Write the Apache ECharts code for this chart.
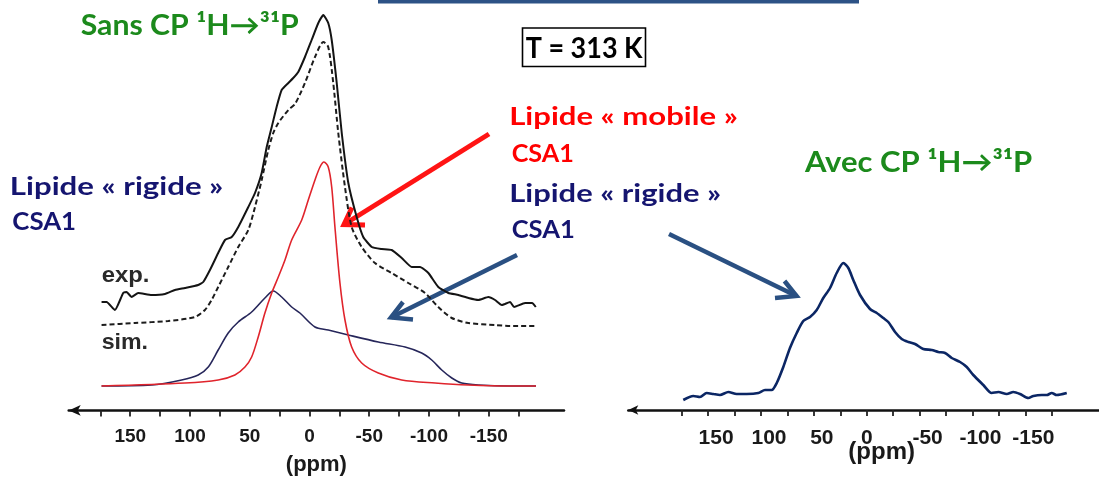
<!DOCTYPE html>
<html><head><meta charset="utf-8">
<script src="https://cdn.jsdelivr.net/npm/echarts@6/dist/echarts.min.js"></script>
<style>html,body{margin:0;padding:0;background:#fff;}#c{width:1099px;height:477px;}</style>
</head><body><div id="c"></div>
<script>
// ---------- data (ppm, intensity in arbitrary units) ----------
const ppmTicks = [175,150,125,100,75,50,25,0,-25,-50,-75,-100,-125,-150,-175];
const ppmLabels = [150,100,50,0,-50,-100,-150];

// left panel: experimental spectrum without CP (offset trace)
const expPpm = [174.0,169.8,162.8,155.9,153.0,148.9,143.3,132.1,121.0,112.6,104.2,93.1,88.9,83.3,76.4,70.7,65.1,59.6,51.2,45.6,40.0,35.8,31.6,27.5,23.3,17.7,13.6,9.4,3.8,-1.8,-7.4,-11.6,-15.7,-18.6,-22.8,-27.0,-32.5,-39.5,-45.0,-52.1,-60.4,-68.8,-77.2,-85.6,-92.5,-99.5,-107.8,-116.2,-124.6,-133.0,-141.3,-149.7,-155.3,-160.9,-167.9,-171.2,-180.4,-186.3,-189.4];
const expInt = [84,84,76,93,94,89,93,91,92,96,98,101,104,116,133,146,149,159,179,193,213,239,259,279,296,303,308,314,329,346,363,371,363,346,303,253,203,169,149,139,137,136,128,119,119,113,99,93,91,88,86,89,86,81,84,79,83,83,79];

// left panel: total simulated spectrum (dashed, offset trace)
const simPpm = [174.0,146.1,118.2,95.9,87.5,81.9,76.4,68.0,59.6,51.2,45.6,40.0,34.5,30.3,26.1,17.7,12.1,3.8,-4.6,-11.6,-15.7,-19.9,-24.1,-29.7,-35.3,-43.7,-54.8,-68.8,-82.7,-96.7,-107.8,-119.1,-133.0,-155.3,-167.9,-189.6];
const simInt = [61,63,65,69,76,86,99,119,139,156,179,206,236,253,263,276,282,303,329,344,339,303,253,199,159,139,123,113,103,93,79,68,63,61,60,60];

// left panel: "rigide" lipid component
const rigPpm = [174.0,132.1,107.0,93.1,84.7,76.4,68.0,59.6,48.4,37.3,30.3,23.3,14.9,8.0,-4.6,-15.7,-32.5,-57.6,-80.0,-93.9,-102.3,-110.7,-119.1,-127.4,-141.3,-167.9,-189.6];
const rigInt = [0,1,6,11,19,36,53,64,74,88,95,89,79,73,59,56,51,44,39,33,26,16,8,3,1,0,0];

// left panel: "mobile" lipid component
const mobPpm = [174.0,104.2,76.4,62.4,54.0,48.4,42.9,37.3,31.6,26.1,20.5,14.9,6.5,1.0,-4.6,-8.8,-12.1,-15.7,-18.6,-21.3,-25.5,-29.7,-35.3,-43.7,-57.6,-77.2,-105.1,-133.0,-167.9,-189.6];
const mobInt = [0,3,6,11,19,29,49,73,93,109,126,146,166,186,206,219,224,219,199,159,103,66,39,23,13,6,3,1,0,0];

// right panel: spectrum with CP 1H->31P
const cpPpm = [173.5,164.0,157.7,151.4,145.1,138.8,130.9,123.0,113.5,102.5,96.2,89.9,85.1,78.9,72.6,66.2,60.0,53.6,47.3,41.1,34.7,28.4,22.1,17.4,12.7,6.3,-3.1,-9.5,-15.7,-20.4,-26.8,-33.1,-39.4,-45.7,-53.5,-61.5,-67.7,-74.1,-80.4,-88.3,-94.6,-100.8,-110.3,-118.2,-124.5,-132.4,-138.7,-145.0,-152.9,-157.6,-165.5,-170.3,-175.0,-179.7,-189.2];
const cpInt = [-5,-1,-2,2,1,0,3,1,1,2,5,5,12,28,47,62,74,78,85,97,107,122,132,127,115,100,86,82,77,73,63,56,53,51,46,45,43,42,37,33,28,20,10,2,3,1,3,1,-3,-1,0,0,2,0,2];

const zip = (a, b) => a.map((p, i) => [p, b[i]]);

// ---------- text helper (fits real text into measured boxes) ----------
const mctx = document.createElement('canvas').getContext('2d');
function fitText(str, left, right, top, baseline, color, family, weight, refGlyph) {
  const ref = 100;
  mctx.textBaseline = 'alphabetic';
  mctx.font = weight + ' ' + ref + 'px ' + family;
  const hm = mctx.measureText(refGlyph || 'H');
  const size = (baseline - top) / (hm.actualBoundingBoxAscent / ref);
  mctx.font = weight + ' ' + size + 'px ' + family;
  mctx.textBaseline = 'middle';
  const m = mctx.measureText(str);
  const inkW = m.actualBoundingBoxRight + m.actualBoundingBoxLeft;
  const sx = (right - left) / inkW;
  const d = mctx.measureText('H').actualBoundingBoxDescent;
  return {
    type: 'text', x: left + m.actualBoundingBoxLeft * sx, y: baseline - d,
    scaleX: sx, scaleY: 1, originX: 0, originY: 0, silent: true,
    style: { text: str, x: 0, y: 0, fontSize: size, fontFamily: family, fontWeight: weight,
             fill: color, align: 'left', verticalAlign: 'middle' }
  };
}
function arrow(tail, tip, a1, a2, color, w) {
  return [
    { type: 'line', silent: true, shape: { x1: tail[0], y1: tail[1], x2: tip[0], y2: tip[1] },
      style: { stroke: color, lineWidth: w, lineCap: 'butt' } },
    { type: 'polyline', silent: true, shape: { points: [a1, tip, a2] },
      style: { stroke: color, lineWidth: w, fill: null, lineJoin: 'miter' } }
  ];
}

const LATO = 'Lato, "DejaVu Sans", sans-serif';
const ARIAL = '"Liberation Sans", Arial, sans-serif';
const GREEN = '#1c8a1c', RED = '#ff0000', NAVY = '#151570';

const graphics = [
  { type: 'rect', silent: true, shape: { x: 378, y: 0, width: 481, height: 3.5 }, style: { fill: '#2d5286' } },
  { type: 'rect', silent: true, shape: { x: 522.5, y: 28, width: 123, height: 38.5 }, style: { fill: null, stroke: '#000', lineWidth: 1.6 } },
  fitText('T = 313 K', 525.7, 643.3, 36.5, 58, '#000', LATO, 'bold'),
  fitText('Sans CP \u00b9H\u2192\u00b3\u00b9P', 80.7, 298.3, 14.5, 35, GREEN, LATO, 'bold'),
  fitText('Avec CP \u00b9H\u2192\u00b3\u00b9P', 803.8, 1032.5, 150.5, 171.5, GREEN, LATO, 'bold'),
  fitText('Lipide \u00ab rigide \u00bb', 12.3, 222.8, 176.7, 195, NAVY, LATO, 'bold'),
  fitText('CSA1', 12.3, 75.4, 211, 229.5, NAVY, LATO, 'bold', 'C'),
  fitText('Lipide \u00ab mobile \u00bb', 511.7, 737.3, 106.7, 125, RED, LATO, 'bold'),
  fitText('CSA1', 511.7, 573.3, 143.3, 161.7, RED, LATO, 'bold', 'C'),
  fitText('Lipide \u00ab rigide \u00bb', 511.7, 720.5, 183.3, 201.7, NAVY, LATO, 'bold'),
  fitText('CSA1', 511.7, 573.3, 220, 238.3, NAVY, LATO, 'bold', 'C'),
  fitText('exp.', 101.7, 148.3, 270, 281.7, '#2a2a2a', ARIAL, 'bold', 'x'),
  fitText('sim.', 101.7, 146.7, 337, 349.3, '#2a2a2a', ARIAL, 'bold', 's'),
  ...arrow([489, 134], [344, 224.5], [365, 225], [352, 207.5], '#ff1414', 5),
  ...arrow([517, 255], [391, 317.5], [413, 319.5], [403, 302], '#2a5082', 4.5),
  ...arrow([669, 234], [796.5, 296], [775, 298], [784.5, 281], '#2a5082', 4.5)
];

function xAxisCfg(gridIndex, min, max, fs, margin, nameFs, nameGap, namePad, lineW, arrowSize, shiftLabels) {
  return {
    type: 'value', gridIndex, inverse: true, min, max, position: 'bottom',
    axisLine: { show: true, onZero: false, symbol: ['arrow', 'none'], symbolSize: arrowSize,
                lineStyle: { color: '#111', width: lineW } },
    axisTick: { show: true, customValues: ppmTicks, length: 6, inside: false,
                lineStyle: { color: '#222', width: 1.8 } },
    axisLabel: {
      show: true, customValues: ppmLabels, margin,
      fontSize: fs, fontWeight: 'bold', fontFamily: ARIAL, color: '#1a1a1a',
      formatter: v => (shiftLabels && v !== 0) ? '{s|' + v + '}' : '{z|' + v + '}',
      rich: {
        s: { fontSize: fs, fontWeight: 'bold', fontFamily: ARIAL, color: '#1a1a1a', padding: [0, 0, 0, shiftLabels] },
        z: { fontSize: fs, fontWeight: 'bold', fontFamily: ARIAL, color: '#1a1a1a' }
      }
    },
    splitLine: { show: false },
    name: '(ppm)', nameLocation: 'middle', nameGap, nameMoveOverlap: false,
    nameTextStyle: { fontSize: nameFs, fontWeight: 'bold', fontFamily: ARIAL, color: '#1a1a1a', padding: namePad }
  };
}
function yAxisCfg(gridIndex, min, max) {
  return { type: 'value', gridIndex, min, max, show: false, splitLine: { show: false } };
}

const option = {
  backgroundColor: '#ffffff',
  animation: false,
  grid: [
    { left: 68.7, width: 495.3, top: 5, height: 405.4, containLabel: false, outerBoundsMode: 'none' },
    { left: 628.3, width: 470.7, top: 5, height: 405, containLabel: false, outerBoundsMode: 'none' }
  ],
  xAxis: [
    xAxisCfg(0, -213, 201.5, 19, 17, 22, 43.6, [0, 0, 0, 0], 2.5, [8, 12], 0),
    xAxisCfg(1, -219.7, 225.5, 21, 18, 24, 30, [0, 0, 0, 36], 2.5, [7, 10], 16)
  ],
  yAxis: [yAxisCfg(0, -24.4, 381), yAxisCfg(1, -15, 390)],
  series: [
    { name: 'exp.', type: 'line', xAxisIndex: 0, yAxisIndex: 0, data: zip(expPpm, expInt),
      showSymbol: false, smooth: 0.15, lineStyle: { color: '#141414', width: 2 } },
    { name: 'sim.', type: 'line', xAxisIndex: 0, yAxisIndex: 0, data: zip(simPpm, simInt),
      showSymbol: false, smooth: 0.25, lineStyle: { color: '#1c1c1c', width: 2, type: [5, 3] } },
    { name: 'rigide', type: 'line', xAxisIndex: 0, yAxisIndex: 0, data: zip(rigPpm, rigInt),
      showSymbol: false, smooth: 0.3, lineStyle: { color: '#26265a', width: 1.6 } },
    { name: 'mobile', type: 'line', xAxisIndex: 0, yAxisIndex: 0, data: zip(mobPpm, mobInt),
      showSymbol: false, smooth: 0.3, lineStyle: { color: '#e0242c', width: 1.6 } },
    { name: 'CP', type: 'line', xAxisIndex: 1, yAxisIndex: 1, data: zip(cpPpm, cpInt),
      showSymbol: false, smooth: 0.25, lineStyle: { color: '#0b2664', width: 2.6 } }
  ],
  graphic: graphics
};

const chart = echarts.init(document.getElementById('c'), null, { renderer: 'canvas' });
chart.setOption(option);
</script>
</body></html>
